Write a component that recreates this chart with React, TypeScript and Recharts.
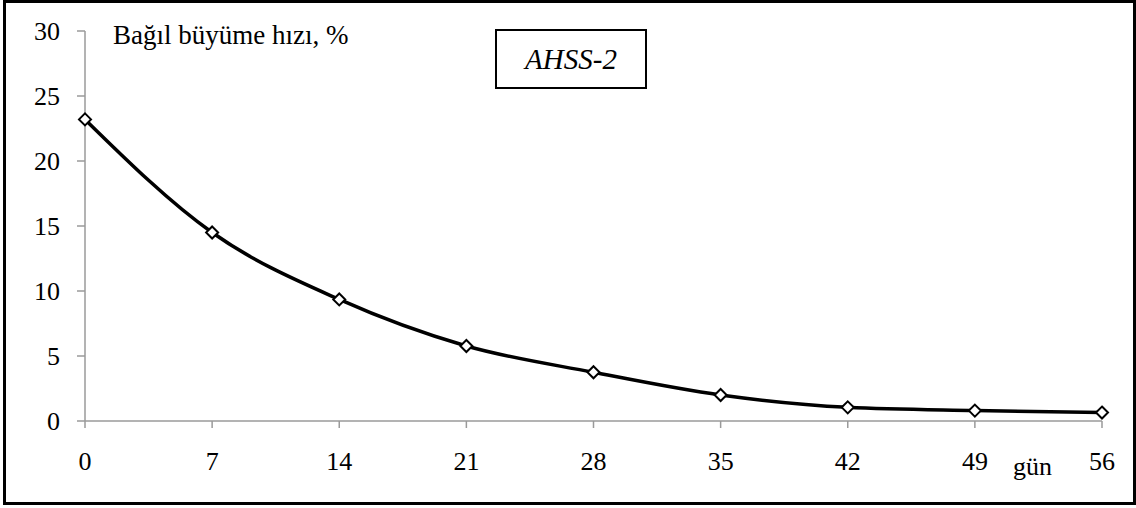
import React from "react";
import { Line, LineChart, XAxis, YAxis } from "recharts";

const days = [0, 7, 14, 21, 28, 35, 42, 49, 56];
const growthRate = [23.2, 14.5, 9.35, 5.77, 3.75, 2.0, 1.05, 0.8, 0.65];
const yTicks = [0, 5, 10, 15, 20, 25, 30];

const title = "Bağıl büyüme hızı, %";
const variety = "AHSS-2";
const xUnit = "gün";

const axisGray = "#9a9a9a";

const chartData = days.map((d, i) => ({ day: d, value: growthRate[i] }));

function Diamond(props: any) {
  const { cx, cy, index } = props;
  if (cx == null || cy == null) return null;
  const r = 6;
  return (
    <path
      key={`d-${index}`}
      d={`M${cx},${cy - r}L${cx + r},${cy}L${cx},${cy + r}L${cx - r},${cy}Z`}
      fill="#fff"
      stroke="#000"
      strokeWidth={2}
    />
  );
}

export default function App() {
  return (
    <div style={{ position: "absolute", left: 0, top: 0, width: 1136, height: 508 }}>
      <div
        style={{
          position: "absolute",
          left: 3,
          top: 0,
          width: 1127,
          height: 499,
          border: "3px solid #000",
        }}
      />
      <div style={{ position: "absolute", left: 0, top: 0 }}>
        <LineChart width={1136} height={508} data={chartData} margin={{ top: 31, right: 34, bottom: 0, left: 0 }}>
          <XAxis
            type="number"
            dataKey="day"
            domain={[0, 56]}
            ticks={days}
            height={87}
            tick={{ fill: "#000", fontSize: 26, fontFamily: "Liberation Serif" }}
            tickSize={7}
            tickMargin={24}
            axisLine={{ stroke: axisGray, strokeWidth: 1.5 }}
            tickLine={{ stroke: axisGray, strokeWidth: 1.5 }}
          />
          <YAxis
            domain={[0, 30]}
            ticks={yTicks}
            width={85}
            tick={{ fill: "#000", fontSize: 26, fontFamily: "Liberation Serif" }}
            tickSize={8}
            tickMargin={17}
            axisLine={{ stroke: axisGray, strokeWidth: 1.5 }}
            tickLine={{ stroke: axisGray, strokeWidth: 1.5 }}
          />
          <Line
            type="monotone"
            dataKey="value"
            stroke="#000"
            strokeWidth={3.5}
            dot={Diamond}
            activeDot={false}
            isAnimationActive={false}
          />
        </LineChart>
      </div>
      <div
        style={{
          position: "absolute",
          left: 113,
          top: 20,
          fontFamily: "Liberation Serif",
          fontSize: 27,
          lineHeight: "31px",
          whiteSpace: "nowrap",
        }}
      >
        {title}
      </div>
      <div
        style={{
          position: "absolute",
          left: 495,
          top: 29,
          width: 148,
          height: 56,
          border: "2px solid #000",
          fontFamily: "Liberation Serif",
          fontStyle: "italic",
          fontSize: 29,
          display: "flex",
          alignItems: "center",
          justifyContent: "center",
        }}
      >
        {variety}
      </div>
      <div
        style={{
          position: "absolute",
          left: 1013,
          top: 452,
          fontFamily: "Liberation Serif",
          fontSize: 26,
          lineHeight: "30px",
        }}
      >
        {xUnit}
      </div>
    </div>
  );
}
